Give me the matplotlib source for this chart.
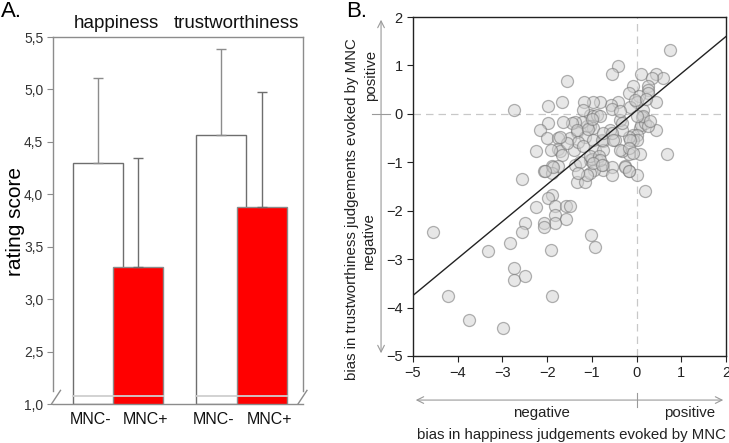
import numpy as np
import matplotlib
matplotlib.use("Agg")
import matplotlib.pyplot as plt

plt.rcParams['font.family'] = ['Liberation Sans', 'DejaVu Sans']

# panel A data
groups = ['happiness', 'trustworthiness']
conditions = ['MNC-', 'MNC+']
mean_minus = [4.30, 4.57]
mean_plus = [3.31, 3.88]
upper_minus = [5.11, 5.39]
upper_plus = [4.35, 4.98]
ytick_vals = [2.0, 2.5, 3.0, 3.5, 4.0, 4.5, 5.0, 5.5]
ytick_labels = ['1,0', '2,5', '3,0', '3,5', '4,0', '4,5', '5,0', '5,5']

# panel B data (bias in happiness, bias in trustworthiness)
happy_bias = [0.75, -0.41, -0.55, 0.09, 0.43, 0.59, 0.34, -0.07, 0.26, 0.26, 0.26, -0.16,
              0.06, 0.44, 0.0, -0.15, -0.41, -0.58, -0.82, -0.98, 0.15, -0.55, -1.56, -2.74,
              -1.99, -1.66, -1.17, -0.03, 0.12, 0.08, 0.10, -0.07, 0.0, -0.07, 0.0, -0.18,
              -0.33, -0.37, -0.37, 0.44, 0.68, 0.08, -0.16, -0.33, -0.15, 0.19, 0.15, 0.0,
              -0.33, -0.59, -0.48, -0.74, -0.93, -0.74, -0.89, -0.74, -0.74, -0.55, -0.55, -0.26,
              -0.16, 0.0, -1.04, -0.96, 0.19, -1.04, -0.97, -0.89, -0.82, -1.04, -0.97, -1.11,
              -1.19, -1.23, -1.38, -1.34, -1.15, -0.97, -0.78, -0.74, -0.55, -0.52, -1.99, -2.16,
              -2.0, -1.75, -1.49, -1.75, -1.71, -1.92, -2.25, -1.41, -1.32, -1.67, -1.45, -1.34,
              -1.08, -1.0, -2.08, -1.9, -1.75, -1.9, -2.57, -1.38, -1.27, -1.34, -1.15, -1.04,
              -1.0, -1.1, -1.56, -1.19, -1.04, -0.85, -0.82, -0.97, -0.78, -0.37, -0.18, -0.07,
              -0.26, -0.18, -1.30, -1.86, -2.05, -1.71, -1.64, -1.9, -1.99, -2.25, -1.82, -1.58,
              -1.49, -1.82, -1.58, -1.82, -2.06, -2.06, -2.49, -2.57, -2.83, -1.91, -1.02, -0.94,
              -4.56, -4.22, -3.74, -2.99, -3.32, -2.73, -2.73, -2.49, -1.9, 0.22, 0.26, 0.30]
trust_bias = [1.32, 0.99, 0.83, 0.83, 0.83, 0.74, 0.74, 0.58, 0.58, 0.50, 0.43, 0.43,
              0.36, 0.25, 0.25, 0.15, 0.25, 0.19, 0.25, 0.25, 0.08, 0.10, 0.67, 0.08,
              0.17, 0.25, 0.25, 0.29, -0.07, -0.30, -0.22, -0.43, -0.43, -0.54, -0.54, -0.47,
              -0.33, -0.12, 0.06, -0.34, -0.83, -0.83, -0.83, -0.76, -0.55, -0.19, -0.05, -0.05,
              -0.19, -0.33, -0.54, -0.57, -0.74, -0.74, -0.95, -1.05, -1.15, -1.09, -1.26, -1.07,
              -1.17, -1.26, -0.95, -1.15, -1.59, -0.02, -0.05, -0.02, -0.05, -0.26, -0.30, -0.26,
              0.08, -0.16, -0.16, -0.37, -0.47, -0.54, -0.54, -0.40, -0.40, -0.54, -0.18, -0.33,
              -0.50, -0.50, -0.50, -0.73, -0.76, -0.74, -0.76, -0.74, -0.59, -0.85, -0.19, -0.33,
              -0.31, -0.10, -1.18, -1.07, -1.07, -1.23, -1.35, -1.05, -1.00, -1.40, -1.40, -1.23,
              -0.93, -1.27, -0.61, -0.67, -0.88, -0.88, -0.95, -1.02, -1.05, -0.74, -0.71, -0.81,
              -1.09, -1.19, -1.23, -1.09, -1.19, -0.47, -0.16, -1.67, -1.74, -1.93, -1.91, -1.91,
              -1.91, -2.09, -2.18, -2.26, -2.25, -2.34, -2.25, -2.43, -2.67, -2.82, -2.50, -2.75,
              -2.43, -3.76, -4.26, -4.43, -2.83, -3.19, -3.43, -3.34, -3.76, 0.30, -0.26, -0.15]
fit_slope = 0.764
fit_intercept = 0.07

fig = plt.figure(figsize=(7.29, 4.43), dpi=100)

# ---------------- panel A ----------------
ax = fig.add_axes([0.0727, 0.088, 0.3429, 0.8284])
base = 2.0
x_minus = np.array([0.9, 3.37])
x_plus = np.array([1.7, 4.19])
w = 1.0
grey = '#8c8c8c'

ax.bar(x_minus, np.array(mean_minus) - base, bottom=base, width=w, color='white',
       edgecolor='#6e6e6e', linewidth=1.0, zorder=2)
ax.errorbar(x_minus, mean_minus, yerr=[np.zeros(2), np.array(upper_minus) - np.array(mean_minus)],
            fmt='none', ecolor=grey, elinewidth=1.0, capsize=3.5, zorder=2.5)
ax.bar(x_plus, np.array(mean_plus) - base, bottom=base, width=w, color='#ff0000',
       edgecolor='#8a8a8a', linewidth=1.0, zorder=3)
ax.errorbar(x_plus, mean_plus, yerr=[np.zeros(2), np.array(upper_plus) - np.array(mean_plus)],
            fmt='none', ecolor='#6e6e6e', elinewidth=1.0, capsize=3.5, zorder=3.5)

# break line inside bars
for xm, xp in zip(x_minus, x_plus):
    ax.plot([xm - w / 2, xp + w / 2], [2.075, 2.075], color='#cfcfcf', lw=1.3, zorder=4)

ax.set_xlim(0, 5.0)
ax.set_ylim(base, 5.5)
ax.set_yticks(ytick_vals)
ax.set_yticklabels(ytick_labels)
ax.set_xticks([])
ax.tick_params(axis='y', direction='out', length=4, color=grey, labelsize=10,
               labelcolor='#333333', pad=3)
for s in ax.spines.values():
    s.set_color(grey)
    s.set_linewidth(1.0)
ax.spines['left'].set_bounds(2.12, 5.5)
ax.spines['right'].set_bounds(2.12, 5.5)
ax.plot([-0.03, 0.15], [2.0, 2.13], color=grey, lw=1.0, clip_on=False)
ax.plot([4.9, 5.08], [2.0, 2.13], color=grey, lw=1.0, clip_on=False)
fig.text(16 / 729, 1 - 222 / 443, 'rating score', rotation=90, ha='center', va='center',
         fontsize=15)

title_x = [1.26, 3.66]
for i, g in enumerate(groups):
    ax.text(title_x[i], 1.024, g, transform=ax.get_xaxis_transform(), ha='center', va='baseline',
            fontsize=13.5, color='#111111')
    ax.text(x_minus[i] - 0.15, -0.041, conditions[0], transform=ax.get_xaxis_transform(),
            ha='center', va='center', fontsize=11.5, color='#111111')
    ax.text(x_plus[i] + 0.15, -0.041, conditions[1], transform=ax.get_xaxis_transform(),
            ha='center', va='center', fontsize=11.5, color='#111111')

fig.text(0.001, 0.975, 'A.', fontsize=16, ha='left', va='center')

# ---------------- panel B ----------------
bx = fig.add_axes([0.5665, 0.1964, 0.4294, 0.7652])
bx.axhline(0, color='#c8c8c8', lw=0.9, ls=(0, (6, 4)), zorder=1)
bx.axvline(0, color='#c8c8c8', lw=0.9, ls=(0, (6, 4)), zorder=1)
bx.scatter(happy_bias, trust_bias, s=75, facecolor=(0.82, 0.82, 0.82, 0.5),
           edgecolor=(0.45, 0.45, 0.45, 0.55), linewidth=0.9, zorder=2)
xl = np.array([-5, 2])
bx.plot(xl, fit_slope * xl + fit_intercept, color='#222222', lw=1.0, zorder=3)
bx.set_xlim(-5, 2)
bx.set_ylim(-5, 2)
bx.set_xticks(range(-5, 3))
bx.set_yticks(range(-5, 3))
bx.tick_params(direction='out', length=4, labelsize=10.5, labelcolor='#222222', color='#222222')
for s in bx.spines.values():
    s.set_color('#222222')
    s.set_linewidth(1.0)

arrow_kw = dict(arrowstyle='<->', color='#9a9a9a', lw=0.8, mutation_scale=12)
bx.annotate('', xy=(-0.102, 1.0), xytext=(-0.102, 0.0), xycoords='axes fraction',
            arrowprops=arrow_kw, annotation_clip=False)
bx.plot([-0.13, -0.075], [5 / 7, 5 / 7], transform=bx.transAxes, color='#9a9a9a', lw=0.8,
        clip_on=False)
bx.annotate('', xy=(1.0, -0.13), xytext=(0.0, -0.13), xycoords='axes fraction',
            arrowprops=arrow_kw, annotation_clip=False)
bx.plot([5 / 7, 5 / 7], [-0.15, -0.11], transform=bx.transAxes, color='#9a9a9a', lw=0.8,
        clip_on=False)

bx.text(-0.134, 0.829, 'positive', transform=bx.transAxes, rotation=90, ha='center',
        va='center', fontsize=10.8, color='#222222')
bx.text(-0.14, 0.339, 'negative', transform=bx.transAxes, rotation=90, ha='center',
        va='center', fontsize=10.8, color='#222222')
bx.text(-0.195, 0.434, 'bias in trustworthiness judgements evoked by MNC', transform=bx.transAxes,
        rotation=90, ha='center', va='center', fontsize=10.8, color='#222222')
bx.text(0.411, -0.168, 'negative', transform=bx.transAxes, ha='center', va='center',
        fontsize=10.8, color='#222222')
bx.text(0.885, -0.168, 'positive', transform=bx.transAxes, ha='center', va='center',
        fontsize=10.8, color='#222222')
bx.text(0.507, -0.233, 'bias in happiness judgements evoked by MNC', transform=bx.transAxes,
        ha='center', va='center', fontsize=10.8, color='#222222')

fig.text(346 / 729, 0.975, 'B.', fontsize=16, ha='left', va='center')

fig.savefig('out.png', dpi=100)
